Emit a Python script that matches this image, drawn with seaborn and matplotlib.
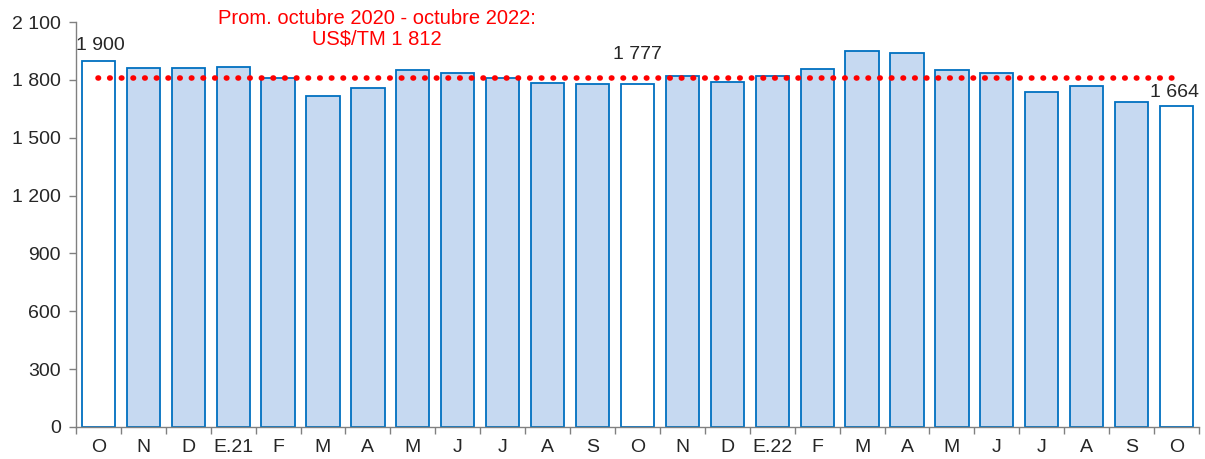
import seaborn as sns
import numpy as np
import pandas as pd
import matplotlib.pyplot as plt

meses = ["O", "N", "D", "E.21", "F", "M", "A", "M", "J", "J", "A", "S",
         "O", "N", "D", "E.22", "F", "M", "A", "M", "J", "J", "A", "S", "O"]
precios = [1900, 1864, 1860, 1869, 1808, 1718, 1758, 1852, 1836, 1808, 1786, 1779,
           1777, 1822, 1791, 1819, 1857, 1949, 1937, 1850, 1836, 1739, 1767, 1685, 1664]
destacados = [0, 12, 24]
promedio = 1812
yticks = [0, 300, 600, 900, 1200, 1500, 1800, 2100]


def miles(v):
    return f"{v:,.0f}".replace(",", " ")


sns.set_style("white")
plt.rcParams["font.family"] = ["Liberation Sans", "DejaVu Sans"]

df = pd.DataFrame({
    "pos": np.arange(len(meses)),
    "precio": precios,
    "tipo": ["dest" if i in destacados else "normal" for i in range(len(meses))],
})

fig, ax = plt.subplots(figsize=(12.05, 4.59), dpi=100)
sns.barplot(data=df, x="pos", y="precio", hue="tipo",
            palette={"dest": "white", "normal": "#C6D9F1"}, saturation=1,
            dodge=False, width=0.74, edgecolor="#0070C0", linewidth=1.3,
            legend=False, ax=ax)

# promedio punteado
ax.plot([0, len(meses) - 1], [promedio, promedio], linestyle=(0, (0.1, 2.0)),
        color="#FF0000", linewidth=4.0, dash_capstyle="round", zorder=5)
ax.text(6.2, 2065, f"Prom. octubre 2020 - octubre 2022:\nUS$/TM {miles(promedio)}",
        color="#FF0000", fontsize=14.5, ha="center", va="center", linespacing=1.15)

# etiquetas de los destacados
fs = 14
ax.text(0.05, 1977, miles(precios[0]), ha="center", va="center", fontsize=fs)
ax.text(12, 1934, miles(precios[12]), ha="center", va="center", fontsize=fs)
ax.text(23.95, 1736, miles(precios[24]), ha="center", va="center", fontsize=fs)

ax.set_xlim(-0.5, len(meses) - 0.5)
ax.set_ylim(0, 2100)
ax.set_yticks(yticks)
ax.set_yticklabels([miles(v) for v in yticks], fontsize=fs)
ax.set_xticks(np.arange(len(meses)))
ax.set_xticklabels(meses, fontsize=fs)
ax.set_xticks(np.arange(len(meses) + 1) - 0.5, minor=True)
ax.tick_params(axis="x", which="major", bottom=True, length=0, pad=9)
ax.tick_params(axis="x", which="minor", bottom=True, length=5, width=1,
               color="#808080", direction="out")
ax.tick_params(axis="y", left=True, length=5, width=1, color="#808080",
               direction="out", pad=6)
ax.set_xlabel("")
ax.set_ylabel("")
sns.despine(ax=ax)
for s in ["left", "bottom"]:
    ax.spines[s].set_color("#808080")
    ax.spines[s].set_linewidth(1)

fig.subplots_adjust(left=0.063, right=0.995, top=0.952, bottom=0.07)
fig.savefig("out.png", dpi=100)
